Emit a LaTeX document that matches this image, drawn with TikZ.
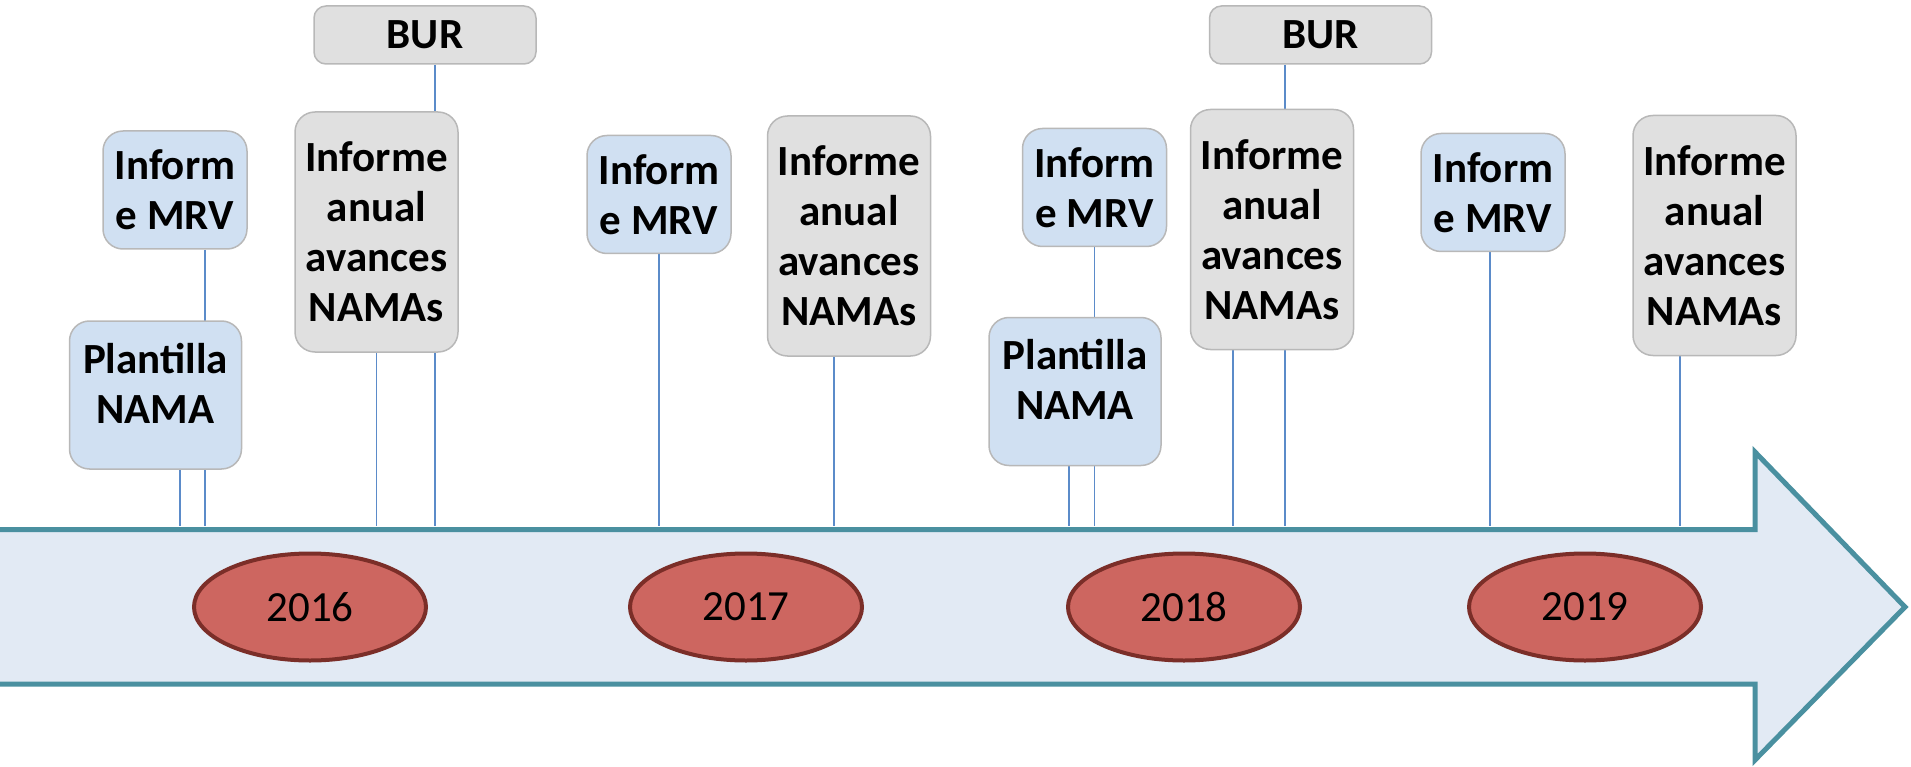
\documentclass[tikz,border=0pt]{standalone}
\usepackage{fontspec}
\setmainfont{Carlito}
\usetikzlibrary{shapes.geometric,backgrounds}
\definecolor{boxblue}{HTML}{D0E0F2}
\definecolor{boxgray}{HTML}{E0E0E0}
\definecolor{boxline}{HTML}{B8B8B8}
\definecolor{stemblue}{HTML}{5B8BC9}
\definecolor{arrowfill}{HTML}{E2EAF4}
\definecolor{arrowline}{HTML}{4A90A0}
\definecolor{yearfill}{HTML}{CD6660}
\definecolor{yearline}{HTML}{7B2E28}
\def\bigfont{\fontsize{43}{50}\selectfont}

\begin{document}
\begin{tikzpicture}[x=1pt, y=-1pt,
	item/.style={draw=boxline, line width=1.5pt, rounded corners=20pt, inner sep=0pt, align=center, font=\bigfont\bfseries},
	mrv/.style={item, fill=boxblue, minimum width=144pt, minimum height=118pt},
	plant/.style={item, fill=boxblue, minimum width=172pt, minimum height=148pt},
	anual/.style={item, fill=boxgray, minimum width=163pt, minimum height=240pt},
	bur/.style={item, fill=boxgray, rounded corners=12pt, minimum width=222pt, minimum height=58pt},
	year/.style={ellipse, draw=yearline, line width=4pt, fill=yearfill, minimum width=232pt, minimum height=107pt, inner sep=0pt, font=\bigfont},
	stem/.style={draw=stemblue, line width=1.8pt}]
		%%%%% START %%%%%
		\useasboundingbox (0,0) rectangle (1911,767);
		
		% timeline arrow
		\draw[fill=arrowfill, draw=arrowline, line width=5pt, miter limit=4]
			(-10,529.5) -- (1755,529.5) -- (1755,452) -- (1905,607) -- (1755,760) -- (1755,684) -- (-10,684);
		\coordinate (axis) at (0,526);
		
		% years
		\node[year] (y16) at (310,607) {2016};
		\node[year] (y17) at (746,607) {2017};
		\node[year] (y18) at (1184,607) {2018};
		\node[year] (y19) at (1585,607) {2019};
		
		% 2016
		\node[mrv] (mrvA) at (175,190) {Inform\\e MRV};
		\node[plant] (plantA) at (155.5,395) {Plantilla\\NAMA\\[-26pt]~};
		\node[bur] (burA) at (425,35) {BUR};
		\node[anual] (anualA) at (376.5,232) {Informe\\anual\\avances\\NAMAs};
		
		% 2017
		\node[mrv] (mrvB) at (659,194.5) {Inform\\e MRV};
		\node[anual] (anualB) at (849,236) {Informe\\anual\\avances\\NAMAs};
		
		% 2018
		\node[mrv] (mrvC) at (1094.5,187.5) {Inform\\e MRV};
		\node[plant] (plantB) at (1075,391.5) {Plantilla\\NAMA\\[-26pt]~};
		\node[bur] (burB) at (1320.5,35) {BUR};
		\node[anual] (anualC) at (1272,229.5) {Informe\\anual\\avances\\NAMAs};
		
		% 2019
		\node[mrv] (mrvD) at (1493,192.5) {Inform\\e MRV};
		\node[anual] (anualD) at (1714.5,235.5) {Informe\\anual\\avances\\NAMAs};
		
		% stems down to the timeline
		\begin{scope}[on background layer]
			\foreach \n/\dx in {mrvA/30, plantA/24.5, burA/10, anualA/0, mrvB/0, anualB/-15,
				mrvC/0, plantB/-6, burB/-35.5, anualC/-39, mrvD/-3, anualD/-34.5}
				\draw[stem] ([xshift=\dx]\n.south) -- ([xshift=\dx]\n.south |- axis);
		\end{scope}
		%%%%% END %%%%%
\end{tikzpicture}
\end{document}
